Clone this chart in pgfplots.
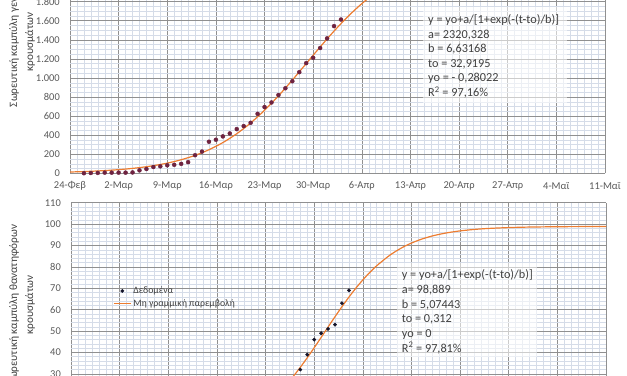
\documentclass[border=0pt]{standalone}
\usepackage{fontspec}
\setmainfont{Carlito}
\usepackage{pgfplots}
\pgfplotsset{compat=1.18}
\definecolor{majgrid}{HTML}{909090}
\definecolor{mingrid}{HTML}{D5DCE8}
\definecolor{ticktxt}{HTML}{595959}
\definecolor{fitorange}{HTML}{ED7D31}
\definecolor{casedot}{HTML}{6E2340}
\definecolor{deathdot}{HTML}{14142A}
\definecolor{boxtxt}{HTML}{404040}
\pgfplotsset{
  mystyle/.style={
    scale only axis, width=535bp,
    xmin=0, xmax=77,
    xtick={0,7,...,77},
    xticklabels={24-Φεβ,2-Μαρ,9-Μαρ,16-Μαρ,23-Μαρ,30-Μαρ,6-Απρ,13-Απρ,20-Απρ,27-Απρ,4-Μαϊ,11-Μαϊ},
    minor x tick num=6,
    grid=both,
    major grid style={majgrid, line width=0.55bp},
    minor grid style={mingrid, line width=0.45bp},
    axis line style={draw=none},
    major tick length=0pt, minor tick length=0pt,
    tick label style={font=\fontsize{10.5}{12}\selectfont, text=ticktxt},
    /pgf/number format/assume math mode=true,
    /pgf/number format/1000 sep={.},
    xticklabel style={anchor=center, yshift=-12.7bp},
    yticklabel style={anchor=east, inner sep=0pt, xshift=-10bp},
  }
}
\begin{document}
\begin{tikzpicture}
\useasboundingbox (0,0) rectangle (627bp,376bp);
\clip (0,0) rectangle (627bp,376bp);
% ---------- top chart ----------
\begin{axis}[mystyle, at={(70bp,202.7bp)}, anchor=south west,
  height=228.8bp, ymin=0, ymax=2400, ytick={0,200,...,1800}, minor y tick num=3]
\addplot[fitorange, line width=1.2bp, smooth] coordinates {
(0,13.5) (2,18.2) (4,24.5) (6,33.0) (8,44.4) (10,59.6) (12,80.0) (14,106.8)
(16,142.1) (18,188.0) (20,247.1) (22,322.2) (24,415.2) (26,528.1) (28,661.1)
(30,812.3) (32,977.7) (34,1151.4) (36,1325.0) (38,1491.7) (40,1644.6)
(42,1779.6) (44,1894.4) (46,1989.6) (48,2066.2) (50,2126.7)};
\addplot[only marks, mark=*, mark size=2bp, mark options={fill=casedot, draw=casedot}] coordinates {
(2,1) (3,3) (4,4) (5,7) (6,7) (7,7) (8,7) (9,9) (10,31) (11,45) (12,66) (13,73)
(14,84) (15,89) (16,99) (17,117) (18,190) (19,228) (20,331) (21,352) (22,387)
(23,418) (24,464) (25,495) (26,530) (27,624) (28,695) (29,743) (30,821) (31,892)
(32,966) (33,1061) (34,1156) (35,1212) (36,1314) (37,1415) (38,1544) (39,1613)};
\end{axis}
% ---------- bottom chart ----------
\begin{axis}[mystyle, at={(71bp,-62bp)}, anchor=south west,
  height=235.3bp, ymin=0, ymax=110, ytick={30,40,...,110}, minor y tick num=4,
  xticklabels={},
  reverse legend,
  legend style={at={(0.0785,0.652)}, anchor=north west, draw=none, fill=none,
    inner xsep=0pt, inner ysep=0pt, row sep=0.5bp,
    font=\fontsize{9.8}{11}\selectfont, text=boxtxt},
  legend cell align=left]
\addplot[fitorange, line width=1.2bp, smooth] coordinates {
(30,21.5) (31,25.0) (32,28.85) (33,33.04) (34,37.51) (35,42.19) (36,47.01)
(37,51.90) (38,56.71) (39,61.39) (40,65.86) (41,70.05) (42,73.90) (43,77.40)
(44,80.53) (46,85.72) (48,89.61) (50,92.44) (52,94.45) (54,95.85) (56,96.82)
(58,97.49) (60,97.95) (63,98.37) (66,98.61) (70,98.77) (74,98.84) (77,98.86)};
\addlegendentry{Μη γραμμική παρεμβολή}
\addplot[only marks, mark=*, mark size=1.7bp, mark options={fill=deathdot, draw=deathdot}] coordinates {
(33,32) (34,39) (35,46) (36,49) (37,51) (38,53) (39,63) (40,69)};
\addlegendentry{Δεδομένα}
\end{axis}
% ---------- equation boxes ----------
\fill[white, opacity=0.55] (423bp,273bp) rectangle (567bp,369bp);
\fill[white, opacity=0.55] (397bp,19bp) rectangle (537bp,113bp);
\begin{scope}[every node/.style={anchor=base west, inner sep=0pt, text=boxtxt, font=\fontsize{12.3}{14.7}\selectfont}]
\node at (428bp,352bp) {y = yo+a/[1+exp(-(t-to)/b)]};
\node at (428bp,337.5bp) {a= 2320,328};
\node at (428bp,323bp) {b = 6,63168};
\node at (428bp,308.5bp) {to = 32,9195};
\node at (428bp,294bp) {yo = - 0,28022};
\node at (428bp,279.5bp) {R\textsuperscript{2} = 97,16\%};
\node at (401.7bp,97bp) {y = yo+a/[1+exp(-(t-to)/b)]};
\node at (401.7bp,82.4bp) {a= 98,889};
\node at (401.7bp,67.8bp) {b = 5,07443};
\node at (401.7bp,53.2bp) {to = 0,312};
\node at (401.7bp,38.6bp) {yo = 0};
\node at (401.7bp,24bp) {R\textsuperscript{2} = 97,81\%};
\end{scope}
% ---------- y axis titles ----------
\begin{scope}[every node/.style={rotate=90, anchor=base, inner sep=0pt, text=boxtxt, font=\fontsize{11.3}{13}\selectfont}]
\node at (17bp,334bp) {Σωρευτική καμπύλη γενικών};
\node at (33bp,334bp) {κρουσμάτων};
\node at (17bp,71bp) {Σωρευτική καμπύλη θανατηφόρων};
\node at (33bp,71bp) {κρουσμάτων};
\end{scope}
\end{tikzpicture}
\end{document}
